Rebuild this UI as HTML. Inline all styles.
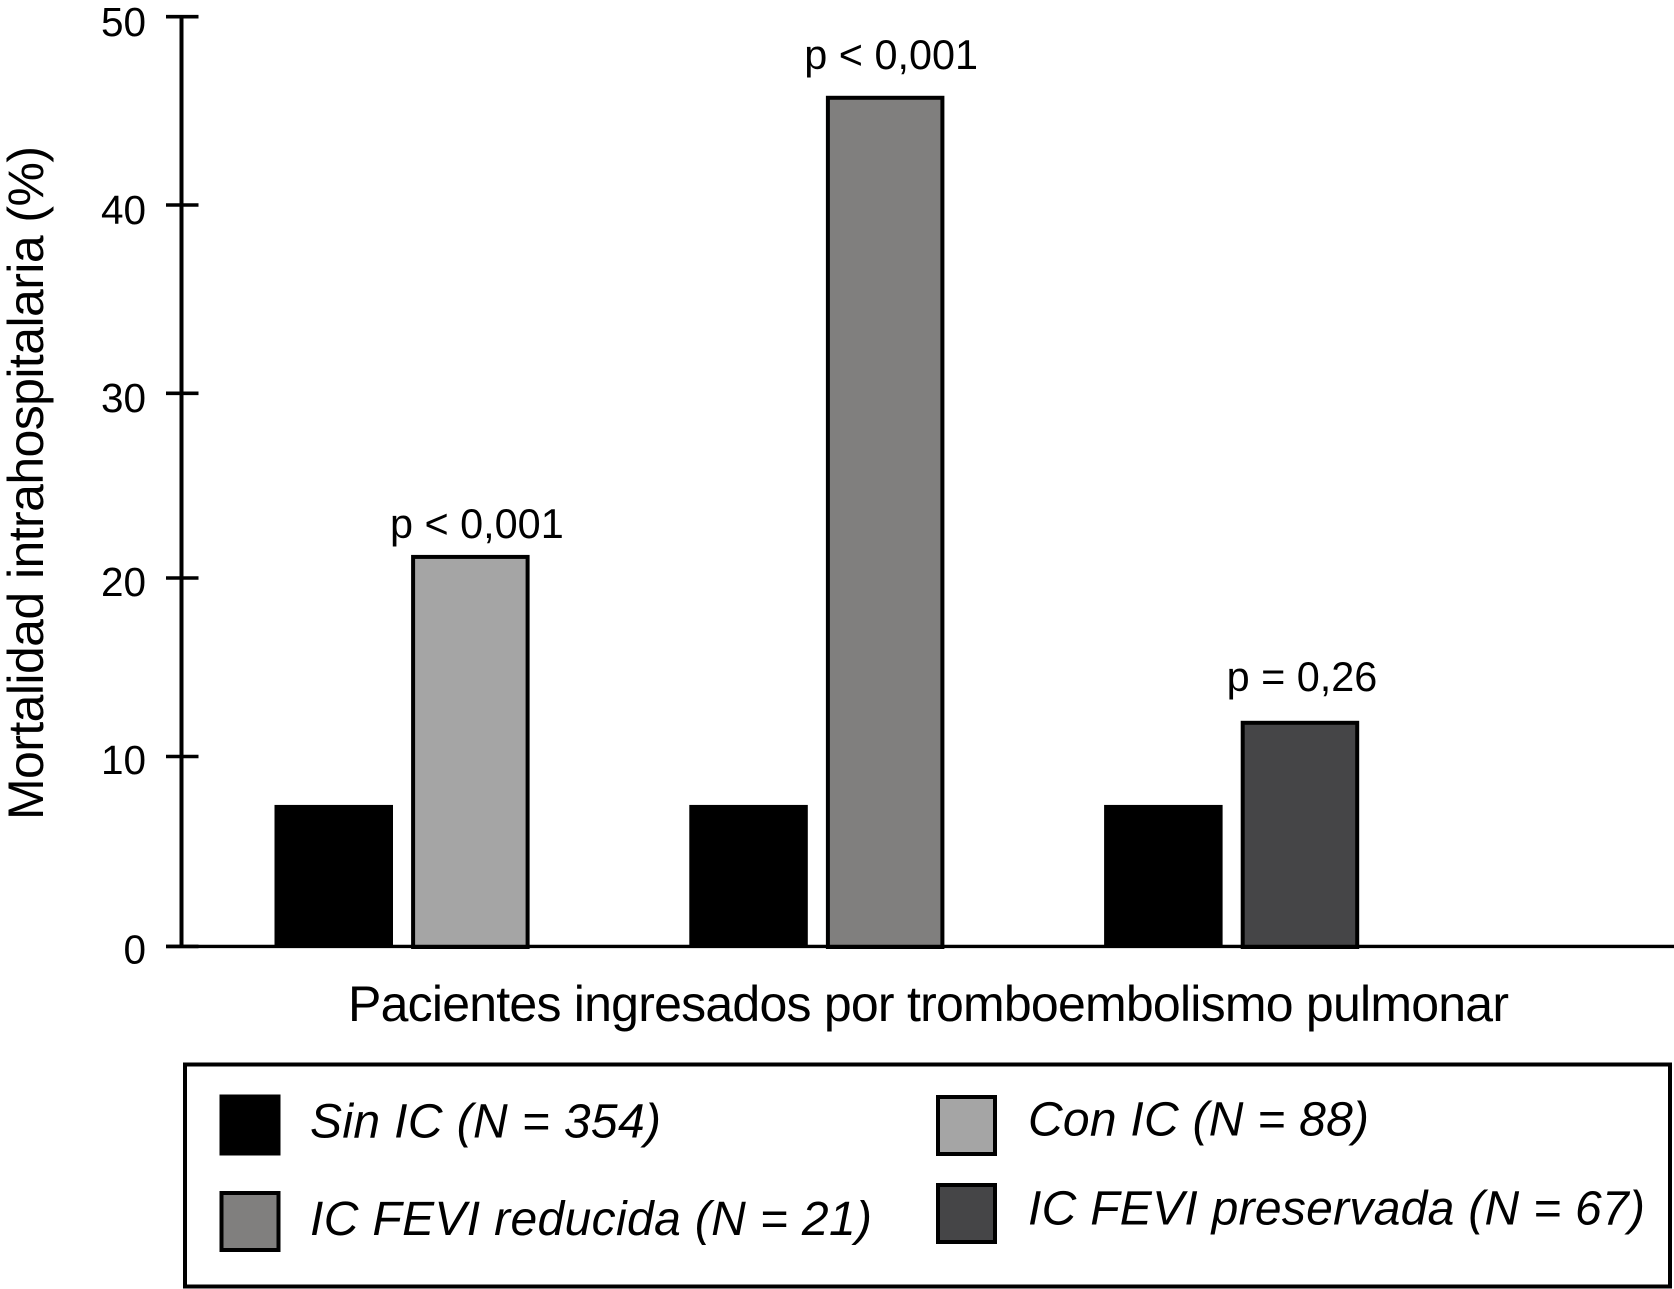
<!DOCTYPE html>
<html lang="es">
<head>
<meta charset="utf-8">
<title>Mortalidad intrahospitalaria</title>
<style>
html,body{margin:0;padding:0;background:#fff;}
svg{display:block;}
text{font-family:"Liberation Sans",Arial,sans-serif;fill:#000;}
.leg{font-size:48px;font-style:italic;}
</style>
</head>
<body>
<svg id="chart" xmlns="http://www.w3.org/2000/svg" width="1674" height="1289" viewBox="0 0 1674 1289">
  <rect x="0" y="0" width="1674" height="1289" fill="#fff"/>
  <g id="bars"></g>
  <g id="axis"></g>
  <g id="plabels"></g>
  <text transform="translate(43,820) rotate(-90)" font-size="50" textLength="674" lengthAdjust="spacing">Mortalidad intrahospitalaria (%)</text>
  <text x="348" y="1021" font-size="50" textLength="1161" lengthAdjust="spacing">Pacientes ingresados por tromboembolismo pulmonar</text>
  <g>
    <rect x="185" y="1064.5" width="1485" height="222" fill="#fff" stroke="#000" stroke-width="4"/>
    <rect x="219.5" y="1094.5" width="61" height="61" fill="#000"/>
    <text class="leg" x="310" y="1137.5" textLength="351" lengthAdjust="spacing">Sin IC (N = 354)</text>
    <rect x="221.5" y="1193" width="57" height="57" fill="#807f7e" stroke="#000" stroke-width="4"/>
    <text class="leg" x="310" y="1235" textLength="562" lengthAdjust="spacing">IC FEVI reducida (N = 21)</text>
    <rect x="938" y="1097" width="57" height="57" fill="#a5a5a5" stroke="#000" stroke-width="4"/>
    <text class="leg" x="1028" y="1135.5" textLength="341" lengthAdjust="spacing">Con IC (N = 88)</text>
    <rect x="938" y="1185" width="57" height="57" fill="#454547" stroke="#000" stroke-width="4"/>
    <text class="leg" x="1028" y="1224.5" textLength="617" lengthAdjust="spacing">IC FEVI preservada (N = 67)</text>
  </g>
</svg>
<script>
const categories = ['con-ic', 'ic-fevi-reducida', 'ic-fevi-preservada'];
const sinIcValues = [7.45, 7.45, 7.45];
const comparisonValues = [21.25, 45.8, 12];
const comparisonFills = ['#a5a5a5', '#807f7e', '#454547'];
const pLabels = ['p < 0,001', 'p < 0,001', 'p = 0,26'];
const pLabelGaps = [17, 27, 30];
const tickValues = [0, 10, 20, 30, 40, 50];
const tickLabels = ['0', '10', '20', '30', '40', '50'];

const SVG_NS = 'http://www.w3.org/2000/svg';

// Axis scale: the source figure's tick spacing is slightly uneven,
// so the value axis is calibrated section by section.
function yScale(v) {
  const pixelAtTens = [946.4, 756.5, 578, 393.3, 205, 16.7];
  const clamped = Math.max(0, Math.min(50, v));
  const i = Math.min(4, Math.floor(clamped / 10));
  return pixelAtTens[i] + (clamped - i * 10) / 10 * (pixelAtTens[i + 1] - pixelAtTens[i]);
}
function xGroup(i) { return 274.5 + 414.8 * i; }

const BAR_W = 118.5;
const BAR_OFFSET = 136.6;
const BASE = 947;

function make(tag, attrs, parent) {
  const node = document.createElementNS(SVG_NS, tag);
  for (const k in attrs) node.setAttribute(k, attrs[k]);
  parent.appendChild(node);
  return node;
}

const barsG = document.getElementById('bars');
const axisG = document.getElementById('axis');
const labelsG = document.getElementById('plabels');

categories.forEach(function (cat, i) {
  const y0 = yScale(sinIcValues[i]);
  const blackBar = make('rect', { x: xGroup(i), y: y0, width: BAR_W, height: BASE - y0, fill: '#000' }, barsG);
  
  

  const y1 = yScale(comparisonValues[i]);
  const bar = make('rect', {
    x: xGroup(i) + BAR_OFFSET + 2, y: y1 + 2, width: BAR_W - 4, height: BASE - y1 - 2,
    fill: comparisonFills[i], stroke: '#000', 'stroke-width': 4
  }, barsG);
  
  

  const label = make('text', {
    x: xGroup(i) + BAR_OFFSET + BAR_W / 2 + (i === 1 ? 6 : (i === 0 ? 6.5 : 2)), y: y1 - pLabelGaps[i],
    'font-size': 41.4, 'text-anchor': 'middle'
  }, labelsG);
  label.textContent = pLabels[i];
  
  
});

const spine = make('line', { x1: 181.5, x2: 181.5, y1: yScale(50) - 1, y2: yScale(0) + 1, stroke: '#000', 'stroke-width': 4 }, axisG);



const baseline = make('line', { x1: 166, x2: 1674, y1: yScale(0), y2: yScale(0), stroke: '#000', 'stroke-width': 3.4 }, axisG);



tickValues.forEach(function (t, i) {
  const y = yScale(t);
  const tick = make('line', { x1: 166, x2: 198.5, y1: y, y2: y, stroke: '#000', 'stroke-width': 3.6 }, axisG);
  
  

  const lab = make('text', { x: 146, y: y + 17 + t * 0.05, 'font-size': 40.5, 'text-anchor': 'end' }, axisG);
  lab.textContent = tickLabels[i];
  
  
});
</script>
</body>
</html>
